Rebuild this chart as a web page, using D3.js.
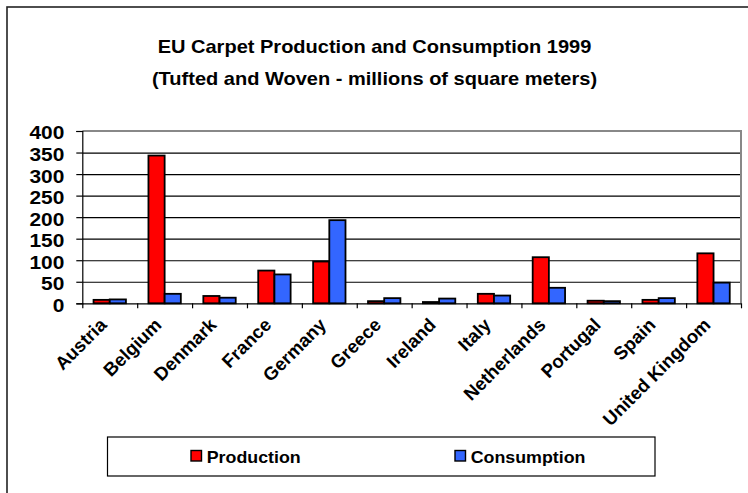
<!DOCTYPE html>
<html>
<head>
<meta charset="utf-8">
<script src="https://cdn.jsdelivr.net/npm/d3@7"></script>
<style>
    body { margin: 0; background: white; }
    text { font-family: "Liberation Sans", Arial, sans-serif; font-weight: bold; fill: black; }
</style>
</head>
<body>
<script>
    // data
    let countries = ["Austria", "Belgium", "Denmark", "France", "Germany", "Greece",
        "Ireland", "Italy", "Netherlands", "Portugal", "Spain", "United Kingdom"];
    let production = [8, 343, 17, 76, 97, 5, 3, 22, 107, 6, 8, 116];
    let consumption = [9, 22, 13, 67, 193, 12, 11, 18, 36, 5, 12, 48];
    let seriesNames = ["Production", "Consumption"];
    let seriesColors = ["#FF0000", "#3366FF"];
    let yTicks = [0, 50, 100, 150, 200, 250, 300, 350, 400];
    let titleLines = ["EU Carpet Production and Consumption 1999",
        "(Tufted and Woven - millions of square meters)"];

    (function () {
        // the reference is stretched a little horizontally
        let stretch = 1.1;

        let svgContainer = d3.select('body')
            .append('svg')
            .attr('width', 748)
            .attr('height', 493)

        // outer chart frame
        svgContainer.append('rect')
            .attr("x", 7)
            .attr("y", 7)
            .attr("width", 800)
            .attr("height", 600)
            .attr("fill", "white")
            .attr("stroke", "#222")
            .attr("stroke-width", 1.6)

        // titles
        titleLines.forEach((line, i) => {
            svgContainer.append('text')
                .attr("transform", "translate(374.5," + (52.5 + i * 32) + ") scale(" + stretch + ",1)")
                .attr("text-anchor", "middle")
                .attr("font-size", 18.2)
                .text(line)
        })

        let plotLeft = 82.3, plotRight = 741, plotTop = 131, plotBottom = 303.3;

        let yScale = d3.scaleLinear()
            .domain([0, 400])
            .range([plotBottom, plotTop]);

        let xScale = d3.scaleBand()
            .domain(countries)
            .range([plotLeft, plotRight])
            .padding(0);

        let bw = xScale.bandwidth();
        let groupW = bw * 0.59;
        let xInner = d3.scaleBand()
            .domain(seriesNames)
            .range([(bw - groupW) / 2, (bw + groupW) / 2]);

        // gridlines
        svgContainer.append('g')
            .attr('transform', 'translate(' + plotLeft + ',0)')
            .call(d3.axisLeft(yScale).tickValues(yTicks.slice(1)).tickSize(-(plotRight - plotLeft)).tickFormat(""))
            .call(g => g.select(".domain").remove())
            .call(g => g.selectAll("line").attr("stroke", "#000").attr("stroke-width", 1.2))

        // plot area border, top and right in gray
        svgContainer.append('path')
            .attr("d", "M" + plotLeft + "," + plotTop + "H" + plotRight + "V" + plotBottom)
            .attr("fill", "none")
            .attr("stroke", "#888")
            .attr("stroke-width", 2)

        // bars
        let rows = countries.map((c, i) => ({ country: c, values: [production[i], consumption[i]] }));
        let groups = svgContainer.append('g')
            .selectAll('g')
            .data(rows)
            .join('g')
            .attr('transform', (d) => 'translate(' + xScale(d.country) + ',0)');

        groups.selectAll('rect')
            .data((d) => d.values.map((v, j) => ({ name: seriesNames[j], value: v, color: seriesColors[j] })))
            .join('rect')
            .attr("x", (d) => xInner(d.name))
            .attr("y", (d) => yScale(d.value))
            .attr("width", xInner.bandwidth())
            .attr("height", (d) => plotBottom - yScale(d.value))
            .attr("fill", (d) => d.color)
            .attr("stroke", "#000")
            .attr("stroke-width", 1.8)

        // y axis
        let yAxis = svgContainer.append('g')
            .attr('transform', 'translate(' + plotLeft + ',0)')
            .call(d3.axisLeft(yScale).tickValues(yTicks).tickSize(6).tickPadding(10.4))
        yAxis.selectAll("text")
            .attr("font-size", 19)
            .attr("dy", "0.42em")
            .attr("transform", "scale(" + stretch + ",1)")
        yAxis.attr("font-family", null).attr("font-size", null)
        yAxis.selectAll("line, path").attr("stroke", "#000").attr("stroke-width", 1.2)

        // x axis with ticks between categories
        let edgeScale = d3.scaleLinear().domain([0, countries.length]).range([plotLeft, plotRight]);
        let xAxis = svgContainer.append('g')
            .attr('transform', 'translate(0,' + plotBottom + ')')
            .call(d3.axisBottom(edgeScale).tickValues(d3.range(countries.length + 1)).tickSize(5).tickSizeOuter(0).tickFormat(""))
        xAxis.selectAll("line, path").attr("stroke", "#000").attr("stroke-width", 1.2)

        // category labels, rotated 45 degrees
        svgContainer.append('g')
            .selectAll('text')
            .data(countries)
            .join('text')
            .attr("transform", (d) => "translate(" + (xScale(d) + bw / 2 - 2) + ",326) rotate(-45)")
            .attr("text-anchor", "end")
            .attr("font-size", 18.5)
            .text((d) => d)

        // legend
        svgContainer.append('rect')
            .attr("x", 107.5)
            .attr("y", 437)
            .attr("width", 547.5)
            .attr("height", 39)
            .attr("fill", "white")
            .attr("stroke", "#000")
            .attr("stroke-width", 1.2)

        let legendX = [191, 455];
        seriesNames.forEach((name, i) => {
            svgContainer.append('rect')
                .attr("x", legendX[i])
                .attr("y", 450.5)
                .attr("width", 10.5)
                .attr("height", 10.5)
                .attr("fill", seriesColors[i])
                .attr("stroke", "#000")
                .attr("stroke-width", 1.4)

            svgContainer.append('text')
                .attr("transform", "translate(" + (legendX[i] + 15.7) + ",463.3) scale(" + stretch + ",1)")
                .attr("font-size", 16.2)
                .text(name)
        })
    })();
</script>
</body>
</html>
